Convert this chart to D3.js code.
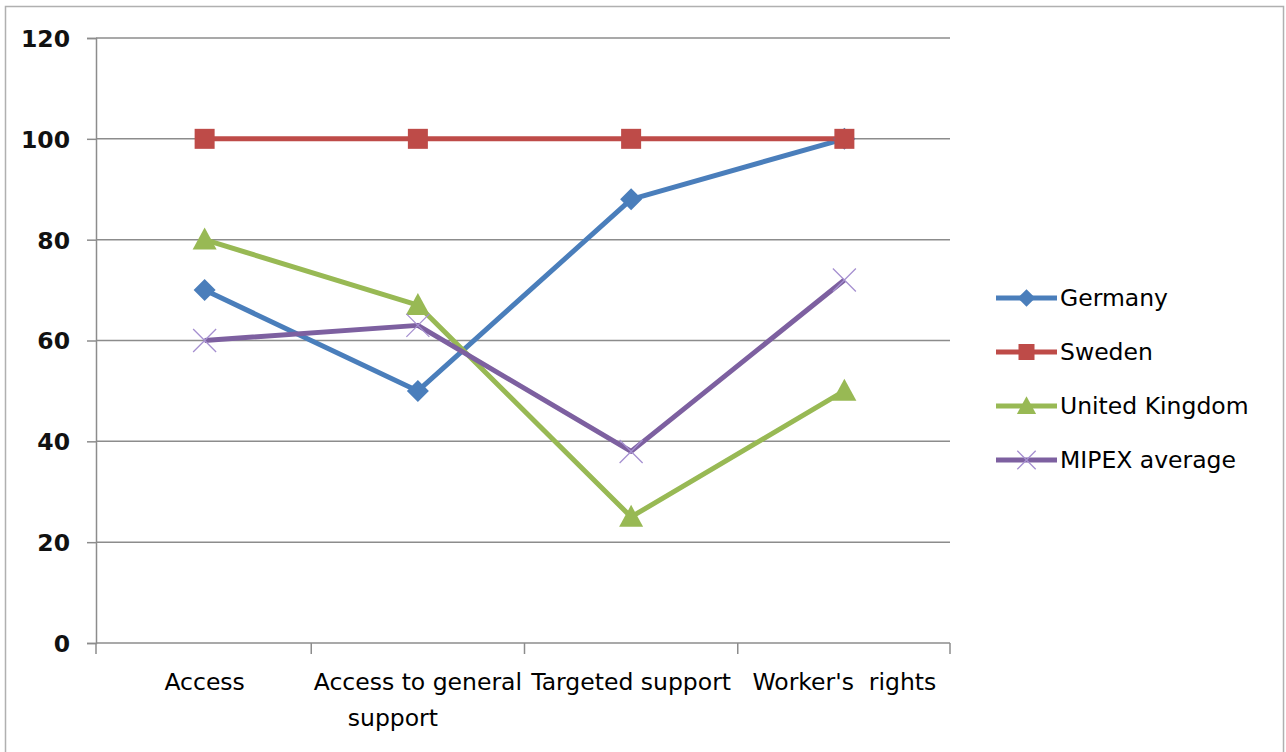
<!DOCTYPE html>
<html><head><meta charset="utf-8">
<script src="https://cdn.jsdelivr.net/npm/d3@7/dist/d3.min.js"></script>
<style>body{margin:0;background:#fff}svg{display:block}text{white-space:pre}</style>
</head><body>
<svg id="c" width="1286" height="752"></svg>
<script>
const categories = ["Access", "Access to general|support", "Targeted support", "Worker's  rights"];
const germany = [70, 50, 88, 100];
const sweden = [100, 100, 100, 100];
const uk = [80, 67, 25, 50];
const mipex = [60, 63, 38, 72];
const yTicks = [0, 20, 40, 60, 80, 100, 120];
const seriesNames = ["Germany", "Sweden", "United Kingdom", "MIPEX average"];
const seriesColors = ["#4a7ebb", "#be4b48", "#98b954", "#7d60a0"];
const markerTypes = ["diamond", "square", "triangle", "x"];

const series = [germany, sweden, uk, mipex].map((v, i) => ({
  name: seriesNames[i], values: v, color: seriesColors[i], marker: markerTypes[i]
}));

const svg = d3.select("#c");
const m = {left: 96, right: 950, top: 38, bottom: 643};

// outer border
svg.append("rect").attr("x", 5.5).attr("y", 6.5).attr("width", 1278).attr("height", 760)
  .attr("fill", "#fff").attr("stroke", "#b0b0b0").attr("stroke-width", 1.5);

const x = d3.scaleBand().domain(categories).range([m.left + 2, m.right + 1]).padding(0);
const y = d3.scaleLinear().domain([0, 120]).range([m.bottom, m.top]);
const cx = c => x(c) + x.bandwidth() / 2;

// gridlines
svg.append("g").selectAll("line").data(yTicks.filter(t => t > 0)).join("line")
  .attr("x1", m.left).attr("x2", m.right)
  .attr("y1", d => y(d)).attr("y2", d => y(d))
  .attr("stroke", "#8c8c8c").attr("stroke-width", 1.5);

// y axis
const yAxis = svg.append("g").attr("transform", `translate(${m.left},0)`)
  .call(d3.axisLeft(y).tickValues(yTicks).tickSize(9).tickPadding(17));
yAxis.select(".domain").attr("stroke", "#8c8c8c").attr("stroke-width", 1.5);
yAxis.selectAll(".tick line").attr("stroke", "#8c8c8c").attr("stroke-width", 1.5);
yAxis.selectAll(".tick text").attr("font-family", "DejaVu Sans").attr("font-size", 23.5)
  .attr("fill", "#111").attr("font-weight", "bold").attr("dy", "0.36em");

// x axis
const xAxis = svg.append("g").attr("transform", `translate(0,${m.bottom})`);
xAxis.append("line").attr("x1", m.left).attr("x2", m.right).attr("y1", 0).attr("y2", 0)
  .attr("stroke", "#8c8c8c").attr("stroke-width", 1.5);
const bounds = [m.left].concat(categories.slice(1).map(c => x(c))).concat([m.right]);
xAxis.selectAll("line.bt").data(bounds).join("line").attr("class", "bt")
  .attr("x1", d => d).attr("x2", d => d).attr("y1", 0).attr("y2", 11)
  .attr("stroke", "#8c8c8c").attr("stroke-width", 1.5);

const labels = svg.append("g").attr("font-family", "DejaVu Sans").attr("font-size", 23.5)
  .attr("fill", "#000").attr("text-anchor", "middle");
categories.forEach(c => {
  const t = labels.append("text").attr("x", cx(c)).attr("y", 690);
  c.split("|").forEach((ln, i) => {
    t.append("tspan").attr("x", cx(c) - (i > 0 ? 25 : 0)).attr("dy", i === 0 ? 0 : 36).text(ln);
  });
});

// lines
const line = d3.line().x((d, i) => cx(categories[i])).y(d => y(d));
svg.append("g").selectAll("path").data(series).join("path")
  .attr("d", s => line(s.values)).attr("fill", "none")
  .attr("stroke", s => s.color).attr("stroke-width", 5).attr("stroke-linejoin", "round");

function drawMarker(g, type, color, px, py, sc) {
  if (type === "diamond") {
    const r = 11 * sc;
    g.append("path").attr("d", `M${px},${py - r}L${px + r},${py}L${px},${py + r}L${px - r},${py}Z`).attr("fill", color);
  } else if (type === "square") {
    const r = 10 * sc;
    g.append("rect").attr("x", px - r).attr("y", py - r).attr("width", 2 * r).attr("height", 2 * r).attr("fill", color);
  } else if (type === "triangle") {
    const w = 12 * sc, h = 22 * sc;
    g.append("path").attr("d", `M${px},${py - h * 0.55}L${px + w},${py + h * 0.45}L${px - w},${py + h * 0.45}Z`).attr("fill", color);
  } else {
    const r = 11.5 * sc;
    g.append("path").attr("d", `M${px - r},${py - r}L${px + r},${py + r}M${px - r},${py + r}L${px + r},${py - r}`)
      .attr("stroke", "#a58fd0").attr("stroke-width", 1.3).attr("fill", "none");
  }
}

const mk = svg.append("g");
series.forEach(s => s.values.forEach((v, i) => drawMarker(mk, s.marker, s.color, cx(categories[i]), y(v), 1)));

// legend
const lg = svg.append("g");
series.forEach((s, i) => {
  const ly = 298 + i * 54;
  lg.append("line").attr("x1", 996).attr("x2", 1057).attr("y1", ly).attr("y2", ly)
    .attr("stroke", s.color).attr("stroke-width", 5);
  drawMarker(lg, s.marker, s.color, 1026.5, ly, 0.8);
  lg.append("text").attr("x", 1060).attr("y", ly).attr("dy", "0.36em")
    .attr("font-family", "DejaVu Sans").attr("font-size", 23.5).attr("fill", "#000").text(s.name);
});
</script>
</body></html>
